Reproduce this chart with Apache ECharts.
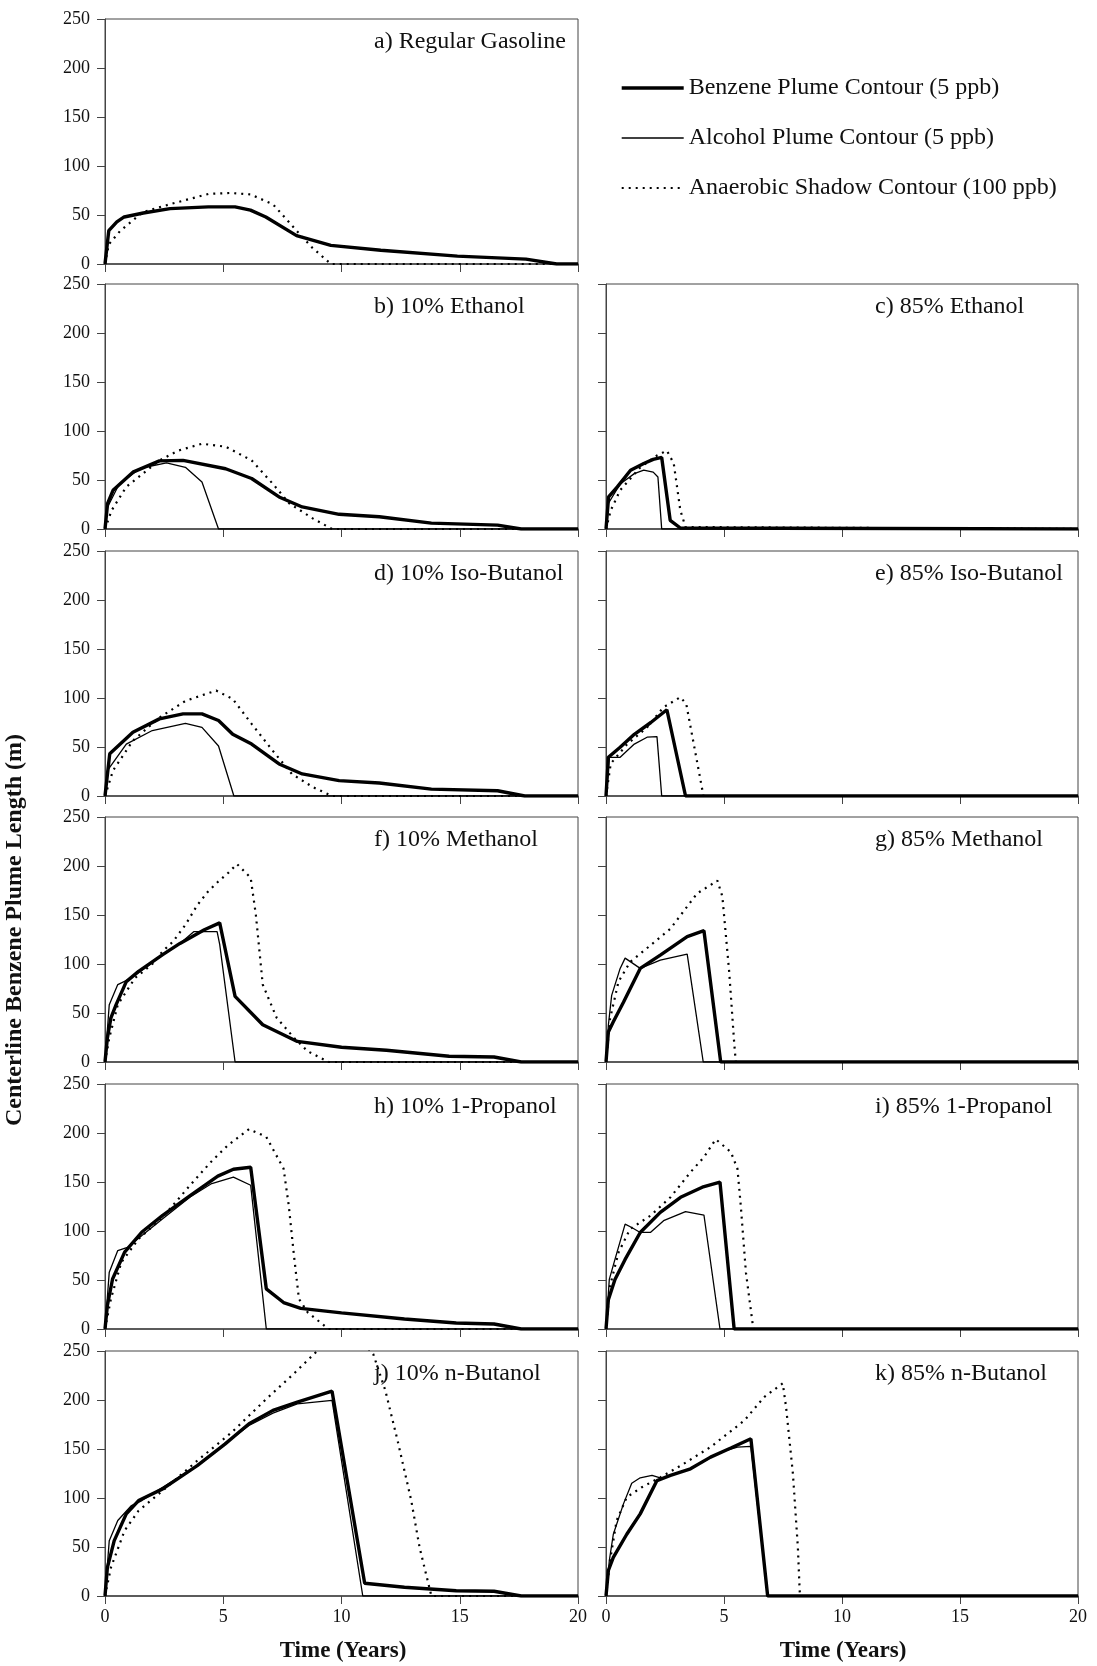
<!DOCTYPE html>
<html><head><meta charset="utf-8">
<script src="https://cdn.jsdelivr.net/npm/echarts@6/dist/echarts.min.js"></script>
<style>html,body{margin:0;padding:0;background:#fff}#c{width:1097px;height:1666px}</style>
</head><body><div id="c"></div>
<script>
// ---------- tick labels ----------
const yTicks = [0, 50, 100, 150, 200, 250];
const xTicks = [0, 5, 10, 15, 20];
const seriesNames = ['Benzene Plume Contour (5 ppb)', 'Alcohol Plume Contour (5 ppb)', 'Anaerobic Shadow Contour (100 ppb)'];
const panelTitles = ['a) Regular Gasoline', 'b) 10% Ethanol', 'c) 85% Ethanol', 'd) 10% Iso-Butanol', 'e) 85% Iso-Butanol',
  'f) 10% Methanol', 'g) 85% Methanol', 'h) 10% 1-Propanol', 'i) 85% 1-Propanol', 'j) 10% n-Butanol', 'k) 85% n-Butanol'];

// ---------- data: [time (years), length (m)] ----------
const aBenzene = [[0,0],[0.16,34],[0.5,43],[0.81,48],[1.62,52],[2.75,56.5],[4.37,58.3],[5.5,58.3],[6.15,55],[6.8,48],[8.1,29],[9.55,19],[11.66,14],[14.9,8],[17.8,5],[19.1,0],[20,0]];
const aShadow = [[0,0],[0.16,20],[0.65,34],[1.6,53],[2.75,61],[4.37,71.5],[5.3,72.5],[6.15,71],[7.1,61],[8.1,34],[8.75,17],[9.55,0],[20,0]];

const bBenzene = [[0,0],[0.11,26],[0.34,39.5],[1.18,58],[2.3,69.5],[3.3,70],[5.1,61.5],[6.2,51.5],[7.36,32.7],[8.34,22.5],[9.9,15],[11.6,12.5],[13.8,6],[16.6,4],[17.6,0],[20,0]];
const bAlcohol = [[0,0],[0.1,22],[0.6,46],[1.5,62],[2.6,67.5],[3.4,63],[4.1,48],[4.8,0],[20,0]];
const bShadow = [[0,0],[0.28,19],[0.9,43],[2.3,70],[3.1,80],[4.1,87],[5.1,84],[6.2,70],[7.1,46],[7.8,26],[8.8,10.6],[9.6,0],[20,0]];

const cBenzene = [[0,0],[0.11,32.7],[0.48,43],[1.04,60],[1.6,66.8],[2.0,71],[2.36,73],[2.72,8.9],[3.15,1],[20,0]];
const cAlcohol = [[0,0],[0.1,26],[0.6,46],[1.2,56.5],[1.6,60],[2.0,58],[2.2,53],[2.36,0],[20,0]];
const cShadow = [[0,0],[0.2,19],[0.6,39.5],[1.46,63],[2.16,75],[2.58,80],[2.87,67],[3.15,19],[3.37,2],[3.4,0],[20,0]];

const dBenzene = [[0,0],[0.2,43],[1.18,65],[2.3,78.7],[3.3,83.8],[4.1,83.8],[4.8,77],[5.4,63],[6.2,53],[7.36,32.7],[8.34,22.5],[9.9,15.7],[11.6,13.3],[13.8,7],[16.6,5.4],[17.75,0],[20,0]];
const dAlcohol = [[0,0],[0.1,26],[0.9,53],[2.0,66.8],[3.4,74],[4.1,70],[4.8,51],[5.45,0],[20,0]];
const dShadow = [[0,0],[0.34,26],[1.18,56.5],[2.3,80],[3.4,97],[4.7,107.6],[5.4,99],[6.2,73.6],[7.1,46],[7.9,22.5],[8.8,8.9],[9.6,0],[20,0]];

const eBenzene = [[0,0],[0.1,39.5],[0.6,49.7],[1.2,63],[1.9,75],[2.58,88],[3.37,0],[20,0]];
const eAlcohol = [[0,0],[0.14,39.5],[0.6,39.5],[1.2,53],[1.74,60],[2.16,60.6],[2.36,0],[20,0]];
const eShadow = [[0,0],[0.2,33],[0.9,53],[1.74,70],[2.44,90.6],[3.15,100.8],[3.4,94],[4.13,0],[20,0]];

const fBenzene = [[0,0],[0.1,24.5],[0.25,45],[0.47,58.5],[0.9,82],[1.42,92.5],[2.44,109.5],[3.17,121],[4.2,135],[4.85,142],[5.5,67],[6.67,38],[8.13,21],[10.0,15],[11.9,12],[14.55,5.8],[16.45,5.1],[17.6,0],[20,0]];
const fAlcohol = [[0,0],[0.18,58.5],[0.54,79],[0.98,84],[1.7,96],[2.44,109.5],[3.17,121],[3.75,133],[4.74,133],[4.85,120],[5.5,0],[20,0]];
const fShadow = [[0,0],[0.18,24.5],[0.54,58.5],[1.27,85.7],[2.0,100],[2.44,113],[2.88,123],[3.4,140],[3.9,160],[4.34,173.5],[4.77,183.7],[5.21,193],[5.58,202],[6.16,188],[6.38,150],[6.67,79],[7.26,45],[8.0,24.5],[8.57,11],[9.45,0],[20,0]];

const gBenzene = [[0,0],[0.1,30.7],[0.31,41],[0.74,61],[1.45,95.5],[2.3,109],[3.44,128],[4.15,134],[4.86,0],[20,0]];
const gAlcohol = [[0,0],[0.1,37.5],[0.24,68],[0.6,95.5],[0.81,106],[1.45,95.5],[2.3,104],[3.44,110],[4.12,0],[20,0]];
const gShadow = [[0,0],[0.17,44],[0.53,82],[1.02,102],[1.73,116],[2.73,136],[3.86,172],[4.72,185],[4.93,169],[5.22,92],[5.43,20],[5.5,0],[20,0]];

const hBenzene = [[0,0],[0.1,24],[0.32,51],[0.83,78.4],[1.56,99],[2.44,116],[3.6,136],[4.77,156],[5.43,163],[6.16,165],[6.82,41],[7.55,27],[8.28,21],[10.0,16.4],[12.66,10.2],[14.85,6.1],[16.45,5.1],[17.6,0],[20,0]];
const hAlcohol = [[0,0],[0.18,58],[0.54,80],[0.98,83.6],[1.56,95.5],[2.44,112.5],[3.6,134.7],[4.48,148],[5.43,155],[6.16,146.7],[6.82,0],[20,0]];
const hShadow = [[0,0],[0.25,30.7],[0.69,68],[1.42,92],[2.44,114],[3.6,146.7],[4.48,170.5],[5.2,187.6],[6.09,204],[6.82,196],[7.55,163.7],[7.77,126],[7.99,75],[8.2,30.7],[8.57,17],[9.45,0],[20,0]];

const iBenzene = [[0,0],[0.1,30],[0.38,50.6],[0.81,71],[1.45,98.5],[2.3,119],[3.16,134.4],[4.08,144.7],[4.83,149.8],[5.43,0],[20,0]];
const iAlcohol = [[0,0],[0.14,50.6],[0.38,71],[0.81,107],[1.09,103.6],[1.45,98.5],[1.88,98.5],[2.44,110.5],[3.37,119.7],[4.15,116.3],[4.83,0],[20,0]];
const iShadow = [[0,0],[0.17,43.8],[0.53,78],[1.02,102],[1.88,115.6],[2.73,134.4],[3.58,160],[4.15,175.4],[4.65,193.6],[5.29,180.6],[5.57,163.5],[5.71,126],[5.93,57.5],[6.21,6],[6.25,0],[20,0]];

const jBenzene = [[0,0],[0.1,29],[0.39,56.5],[0.9,83.8],[1.42,97.4],[2.44,109.3],[3.9,133],[5.07,155],[6.09,175.7],[7.1,189.4],[8.13,197.9],[9.6,209],[10.98,13],[12.66,8.9],[14.85,5.4],[16.45,4.8],[17.6,0],[20,0]];
const jAlcohol = [[0,0],[0.18,56.5],[0.54,77],[1.12,92.3],[1.56,97.4],[2.44,111],[3.9,133],[5.07,155],[6.09,174],[7.1,186.6],[8.13,196],[9.6,199.6],[10.9,0],[20,0]];
const jShadow = [[0,0],[0.25,29],[0.83,66.8],[1.42,87],[2.44,107.6],[3.9,138],[5.36,167],[6.82,201],[7.99,227],[9.0,250.7],[10.2,278],[11.34,247],[11.85,210],[12.37,158.7],[12.95,97.4],[13.3,49.7],[13.68,12],[13.8,0],[20,0]];

const kBenzene = [[0,0],[0.1,26],[0.31,39.5],[0.88,63],[1.45,83.8],[2.16,117.8],[2.73,123],[3.58,129.8],[4.43,141.7],[5.29,151],[6.14,160.4],[6.85,0],[20,0]];
const kAlcohol = [[0,0],[0.14,36],[0.31,63],[0.74,94],[1.09,115],[1.45,120.6],[1.95,123],[2.37,120],[3.58,129.8],[4.86,146.8],[5.57,152],[6.14,152.6],[6.85,0],[20,0]];
const kShadow = [[0,0],[0.17,36],[0.45,77],[0.88,100.8],[1.52,111],[2.3,121],[3.3,135],[4.43,152],[5.86,179],[6.7,203],[7.49,217],[7.63,192.8],[7.92,124.7],[8.13,49.7],[8.2,8.9],[8.22,0],[20,0]];

const panelData = [
  [aBenzene, null, aShadow],
  [bBenzene, bAlcohol, bShadow], [cBenzene, cAlcohol, cShadow],
  [dBenzene, dAlcohol, dShadow], [eBenzene, eAlcohol, eShadow],
  [fBenzene, fAlcohol, fShadow], [gBenzene, gAlcohol, gShadow],
  [hBenzene, hAlcohol, hShadow], [iBenzene, iAlcohol, iShadow],
  [jBenzene, jAlcohol, jShadow], [kBenzene, kAlcohol, kShadow]
];

// ---------- layout ----------
const FONT = '"Liberation Serif", "Times New Roman", serif';
const colLeft = [105, 606];
const colWidth = [473, 472];
const rowTop = [19, 284, 551, 817, 1084, 1351];
const rowHeight = 245;
const titleLeft = [374, 875];
const cells = [[0,0],[1,0],[1,1],[2,0],[2,1],[3,0],[3,1],[4,0],[4,1],[5,0],[5,1]];

const lineStyles = [
  {color:'#000', width:3.4, type:'solid'},
  {color:'#000', width:1.3, type:'solid'},
  {color:'#000', width:2.2, type:[2,5]}
];
const grids = [], xAxes = [], yAxes = [], series = [], titles = [];
cells.forEach(([r, c], i) => {
  grids.push({left: colLeft[c], top: rowTop[r], width: colWidth[c], height: rowHeight,
    show: true, borderColor: '#444', borderWidth: 1, backgroundColor: 'transparent'});
  xAxes.push({type:'value', gridIndex:i, min:0, max:20, interval:5,
    axisLine:{show:true, onZero:false, lineStyle:{color:'#444', width:1.5}},
    axisTick:{show:true, length:8, lineStyle:{color:'#444'}},
    axisLabel:{show: r === 5, margin:12, fontFamily:FONT, fontSize:18, color:'#111',
      formatter: v => xTicks.includes(v) ? String(v) : ''},
    splitLine:{show:false}});
  yAxes.push({type:'value', gridIndex:i, min:0, max:250, interval:50,
    axisLine:{show:true, lineStyle:{color:'#444', width:1}},
    axisTick:{show:true, length:8, lineStyle:{color:'#444'}},
    axisLabel:{show: c === 0, margin:15, fontFamily:FONT, fontSize:18, color:'#111',
      formatter: v => yTicks.includes(v) ? String(v) : ''},
    splitLine:{show:false}});
  titles.push({text: panelTitles[i], left: titleLeft[c], top: rowTop[r] + 11, padding:0,
    textStyle:{fontFamily:FONT, fontSize:24, fontWeight:'normal', color:'#111'}});
  panelData[i].forEach((d, k) => {
    if (!d) return;
    series.push({type:'line', name: seriesNames[k], xAxisIndex:i, yAxisIndex:i, data:d,
      symbol:'none', showSymbol:false, smooth:false, clip:true, silent:true, animation:false,
      z: k === 0 ? 5 : (k === 1 ? 4 : 3),
      lineStyle: lineStyles[k], itemStyle:{color:'#000'}});
  });
});

const chart = echarts.init(document.getElementById('c'), null, {renderer:'canvas'});
chart.setOption({
  animation:false,
  backgroundColor:'#fff',
  title: titles,
  legend:{orient:'vertical', left:620, top:76, padding:0, itemWidth:62, itemHeight:14, itemGap:26,
    selectedMode:false,
    itemStyle:{opacity:0, color:'transparent', borderWidth:0},
    data: seriesNames.map((n, k) => ({name:n, lineStyle:{width:lineStyles[k].width, type:lineStyles[k].type, color:'#000'}})),
    textStyle:{fontFamily:FONT, fontSize:24, color:'#111'}},
  grid: grids, xAxis: xAxes, yAxis: yAxes, series: series,
  graphic:[
    {type:'text', x:15, y:930, rotation:Math.PI/2,
      style:{text:'Centerline Benzene Plume Length (m)', fill:'#111', font:'bold 24px ' + FONT,
        textAlign:'center', textVerticalAlign:'middle', align:'center', verticalAlign:'middle'}},
    {type:'text', x:343, y:1651,
      style:{text:'Time (Years)', fill:'#111', font:'bold 23px ' + FONT,
        textAlign:'center', textVerticalAlign:'middle', align:'center', verticalAlign:'middle'}},
    {type:'text', x:843, y:1651,
      style:{text:'Time (Years)', fill:'#111', font:'bold 23px ' + FONT,
        textAlign:'center', textVerticalAlign:'middle', align:'center', verticalAlign:'middle'}}
  ]
});
</script></body></html>
